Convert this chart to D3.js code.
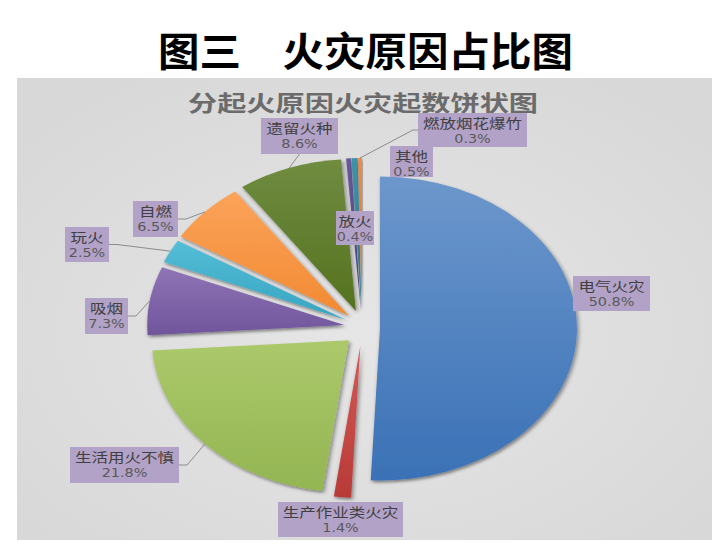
<!DOCTYPE html>
<html><head><meta charset="utf-8">
<script src="https://cdn.jsdelivr.net/npm/d3@7/dist/d3.min.js"></script>
<style>
html,body{margin:0;padding:0;background:#fff;}
svg{display:block;}
text{font-family:"Noto Sans CJK SC","Noto Sans",sans-serif;}
</style></head>
<body>
<svg id="chart" width="726" height="548"></svg>
<script>
// ---- data ----
const categories = ["电气火灾","生产作业类火灾","生活用火不慎","吸烟","玩火","自燃","遗留火种","放火","其他","燃放烟花爆竹"];
const values = [50.8, 1.4, 21.8, 7.3, 2.5, 6.5, 8.6, 0.4, 0.5, 0.3];
const pctLabels = ["50.8%","1.4%","21.8%","7.3%","2.5%","6.5%","8.6%","0.4%","0.5%","0.3%"];
const mainTitle = "图三　火灾原因占比图";
const chartTitle = "分起火原因火灾起数饼状图";

// ---- styles / layout ----
const sliceColors = [
  ["#6d97cc","#3a71b6"],
  ["#d45a57","#b83a37"],
  ["#acc96b","#93b552"],
  ["#8f74b6","#70559c"],
  ["#55bdd6","#36a5c2"],
  ["#fba35a","#f28a32"],
  ["#6f8c40","#557220"],
  ["#6a5a99","#4f4083"],
  ["#3f93a8","#2c7a8e"],
  ["#ee8a45","#d8702a"]
];
// label boxes [x, y, w, h]
const labelBoxes = [
  [573,276,77,35],[278,502,125,35],[70,447,109,36],[85,298,43,36],[65,227,44,35],
  [133,201,45,36],[261,118,77,36],[336,211,38,34],[390,146,43,31],[418,113,109,34]
];
// leader: side of box the line leaves from (null = none)
const leaderSides = [null,null,"right","right","right","right","bottom",null,null,"left"];

const W = 726, H = 548;
const cx = 362, cy = 328, R = 197, ky = 152/197, explode = 18;

const svg = d3.select("#chart");
const defs = svg.append("defs");

const bg = defs.append("radialGradient").attr("id","bg").attr("cx","50%").attr("cy","55%").attr("r","65%");
bg.append("stop").attr("offset","0%").attr("stop-color","#e6e6e6");
bg.append("stop").attr("offset","100%").attr("stop-color","#d8d8d8");

const sh = defs.append("filter").attr("id","shadow").attr("x","-20%").attr("y","-20%").attr("width","140%").attr("height","140%");
sh.append("feDropShadow").attr("dx",1.5).attr("dy",2.5).attr("stdDeviation",2.2)
  .attr("flood-color","#000").attr("flood-opacity",0.45);

sliceColors.forEach((c,i)=>{
  const lg = defs.append("linearGradient").attr("id","g"+i).attr("x1","0").attr("y1","0").attr("x2","0").attr("y2","1");
  lg.append("stop").attr("offset","0%").attr("stop-color",c[0]);
  lg.append("stop").attr("offset","100%").attr("stop-color",c[1]);
});

// panel
svg.append("rect").attr("x",17).attr("y",78).attr("width",695).attr("height",462).attr("fill","url(#bg)");

// main title
svg.append("text").attr("x",365.5).attr("y",66).attr("text-anchor","middle")
  .attr("font-size",40).attr("font-weight",700).attr("fill","#000")
  .attr("textLength",415).attr("lengthAdjust","spacingAndGlyphs")
  .style("font-family","'Noto Sans CJK SC',sans-serif").text(mainTitle);

// chart title
svg.append("text").attr("x",363).attr("y",111).attr("text-anchor","middle")
  .attr("font-size",22).attr("font-weight",700).attr("fill","#6b6b6b")
  .attr("textLength",350).attr("lengthAdjust","spacingAndGlyphs").text(chartTitle);

// pie
const pie = d3.pie().sort(null).value(d=>d).startAngle(0).endAngle(2*Math.PI);
const arcs = pie(values);
const arc = d3.arc().innerRadius(0).outerRadius(R);

const pieG = svg.append("g");
arcs.forEach((a,i)=>{
  const m = (a.startAngle + a.endAngle)/2;
  const ox = cx + explode*Math.sin(m), oy = cy - explode*Math.cos(m);
  pieG.append("g").attr("transform",`translate(${ox},${oy}) scale(1,${ky})`)
    .append("path").attr("d",arc(a)).attr("fill",`url(#g${i})`)
    .attr("filter","url(#shadow)");
});

// leader lines
arcs.forEach((a,i)=>{
  const side = leaderSides[i];
  if(!side) return;
  const m = (a.startAngle + a.endAngle)/2;
  const tx = cx + (explode+R)*Math.sin(m);
  const ty = cy - explode*Math.cos(m) - R*ky*Math.cos(m);
  const [bx,by,bw,bh] = labelBoxes[i];
  let pts;
  if(side==="right"){ const y=by+bh/2; pts=[[bx+bw,y],[bx+bw+8,y],[tx,ty]]; }
  else if(side==="left"){ const y=by+bh/2; pts=[[bx,y],[bx-5,y],[tx,ty]]; }
  else { pts=[[bx+bw/2,by+bh],[tx,ty]]; }
  svg.append("path").attr("d",d3.line()(pts)).attr("fill","none")
    .attr("stroke","#8c8c8c").attr("stroke-width",1);
});

// labels
const labG = svg.append("g");
categories.forEach((name,i)=>{
  const [bx,by,bw,bh] = labelBoxes[i];
  labG.append("rect").attr("x",bx).attr("y",by).attr("width",bw).attr("height",bh).attr("fill","#b3a2c7");
  const mx = bx+bw/2;
  labG.append("g").attr("transform",`translate(${mx},${by+14.5}) scale(1.27,1)`)
    .append("text").attr("text-anchor","middle").attr("font-size",13).attr("fill","#404040").text(name);
  labG.append("g").attr("transform",`translate(${mx},${by+29.5}) scale(1.2,1)`)
    .append("text").attr("text-anchor","middle").attr("font-size",12).attr("fill","#595959")
    .style("font-family","'DejaVu Sans',sans-serif").text(pctLabels[i]);
});
</script>
</body></html>
